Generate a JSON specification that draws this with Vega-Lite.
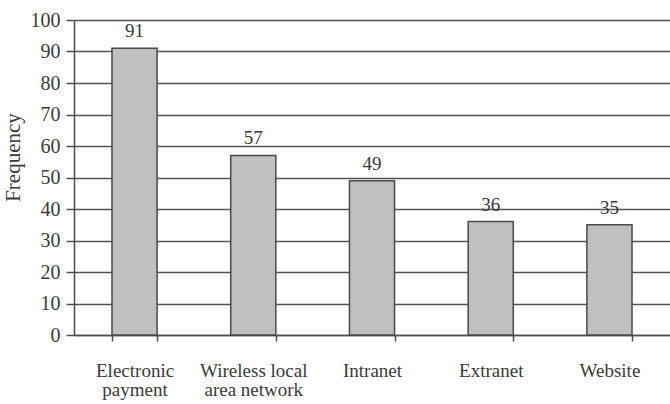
{
  "$schema": "https://vega.github.io/schema/vega-lite/v6.json",
  "autosize": "none",
  "padding": {"left": 74, "top": 20, "right": 0, "bottom": 69},
  "width": 596,
  "height": 315,
  "background": "white",
  "config": {
    "view": {"stroke": null},
    "font": "Liberation Serif",
    "axis": {
      "labelFont": "Liberation Serif",
      "titleFont": "Liberation Serif",
      "labelColor": "#3a3a3a",
      "titleColor": "#3a3a3a",
      "domainColor": "#4d4d4d",
      "tickColor": "#4d4d4d",
      "domainWidth": 1.5,
      "tickWidth": 1.5
    }
  },
  "data": {
    "values": [
      {"technology": "Electronic payment", "frequency": 91},
      {"technology": "Wireless local area network", "frequency": 57},
      {"technology": "Intranet", "frequency": 49},
      {"technology": "Extranet", "frequency": 36},
      {"technology": "Website", "frequency": 35}
    ]
  },
  "encoding": {
    "x": {
      "field": "technology",
      "type": "nominal",
      "sort": null,
      "scale": {"paddingInner": 0.62, "paddingOuter": 0.32},
      "axis": {
        "title": null,
        "labelAngle": 0,
        "labelFontSize": 19,
        "labelLineHeight": 19.5,
        "labelPadding": 20,
        "tickSize": 6,
        "tickBand": "extent",
        "grid": false,
        "labelExpr": "datum.label == 'Electronic payment' ? ['Electronic', 'payment'] : datum.label == 'Wireless local area network' ? ['Wireless local', 'area network'] : datum.label"
      }
    },
    "y": {
      "field": "frequency",
      "type": "quantitative",
      "scale": {"domain": [0, 100], "nice": false},
      "axis": {
        "title": "Frequency",
        "titleFontSize": 21,
        "titleFontWeight": "normal",
        "titlePadding": 7,
        "titleY": 137,
        "labelFontSize": 20,
        "labelPadding": 6,
        "tickSize": 8,
        "values": [0, 10, 20, 30, 40, 50, 60, 70, 80, 90, 100],
        "grid": true,
        "gridColor": "#555555",
        "gridWidth": 1.5,
        "gridOpacity": 1
      }
    }
  },
  "layer": [
    {
      "mark": {"type": "bar", "color": "#c0c0c0", "stroke": "#4a4a4a", "strokeWidth": 1.5}
    },
    {
      "mark": {"type": "text", "baseline": "bottom", "dy": -7, "fontSize": 19, "color": "#3a3a3a", "font": "Liberation Serif"},
      "encoding": {"text": {"field": "frequency", "type": "quantitative"}}
    }
  ]
}
